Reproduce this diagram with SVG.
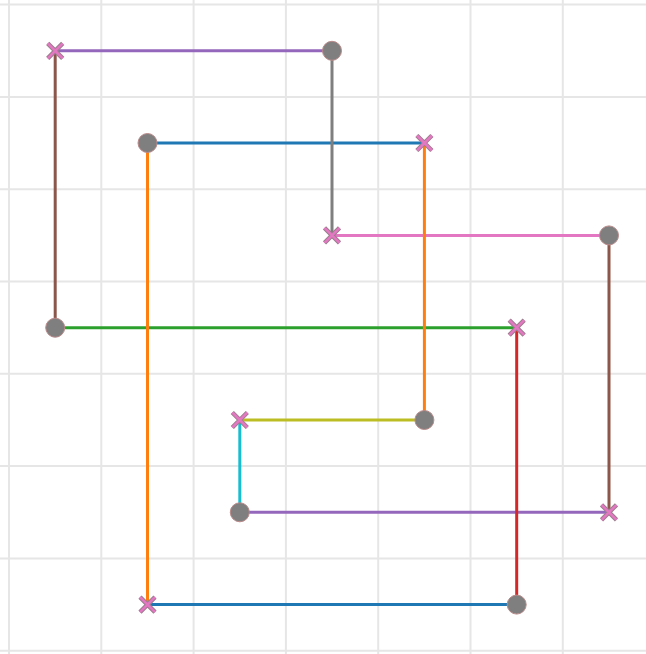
<svg xmlns="http://www.w3.org/2000/svg" width="646" height="654" viewBox="0 0 646 654">
<defs>
<style>
.grid line{stroke:#e6e6e6;stroke-width:2}
.c line{stroke-width:3;fill:none;stroke-linecap:butt}
.dot{fill:#7f7f7f;stroke:#b98a8a;stroke-width:1}
.xo{stroke:#9a7f8c;stroke-width:4.5;fill:none}
.xi{stroke:#e377c2;stroke-width:2.5;fill:none}
</style>
<g id="xm"><path class="xo" d="M-7.5,-7.5L7.5,7.5M-7.5,7.5L7.5,-7.5"/><path class="xi" d="M-7.5,-7.5L7.5,7.5M-7.5,7.5L7.5,-7.5"/></g>
</defs>
<rect width="646" height="654" fill="#ffffff"/>
<g class="grid">
<line x1="9" y1="0" x2="9" y2="654"/>
<line x1="101.3" y1="0" x2="101.3" y2="654"/>
<line x1="193.6" y1="0" x2="193.6" y2="654"/>
<line x1="285.9" y1="0" x2="285.9" y2="654"/>
<line x1="378.2" y1="0" x2="378.2" y2="654"/>
<line x1="470.5" y1="0" x2="470.5" y2="654"/>
<line x1="562.8" y1="0" x2="562.8" y2="654"/>
<line x1="0" y1="4.6" x2="646" y2="4.6"/>
<line x1="0" y1="96.9" x2="646" y2="96.9"/>
<line x1="0" y1="189.2" x2="646" y2="189.2"/>
<line x1="0" y1="281.5" x2="646" y2="281.5"/>
<line x1="0" y1="373.8" x2="646" y2="373.8"/>
<line x1="0" y1="466.1" x2="646" y2="466.1"/>
<line x1="0" y1="558.4" x2="646" y2="558.4"/>
<line x1="0" y1="650.7" x2="646" y2="650.7"/>
</g>
<g id="connectors" class="c">
<line x1="55.2" y1="50.8" x2="332" y2="50.8" stroke="#9467bd"/>
<line x1="332" y1="235.4" x2="609" y2="235.4" stroke="#e377c2"/>
<line x1="239.8" y1="512.3" x2="609" y2="512.3" stroke="#9467bd"/>
<line x1="239.8" y1="420" x2="424.4" y2="420" stroke="#bcbd22"/>
<line x1="147.5" y1="143" x2="424.4" y2="143" stroke="#1f77b4"/>
<line x1="147.5" y1="604.6" x2="516.7" y2="604.6" stroke="#1f77b4"/>
<line x1="55.2" y1="327.7" x2="516.7" y2="327.7" stroke="#2ca02c"/>
<line x1="332" y1="50.8" x2="332" y2="235.4" stroke="#7f7f7f"/>
<line x1="609" y1="235.4" x2="609" y2="512.3" stroke="#8c564b"/>
<line x1="239.8" y1="512.3" x2="239.8" y2="420" stroke="#17becf"/>
<line x1="424.4" y1="420" x2="424.4" y2="143" stroke="#ff7f0e"/>
<line x1="147.5" y1="143" x2="147.5" y2="604.6" stroke="#ff7f0e"/>
<line x1="516.7" y1="604.6" x2="516.7" y2="327.7" stroke="#d62728"/>
<line x1="55.2" y1="327.7" x2="55.2" y2="50.8" stroke="#8c564b"/>
</g>
<g id="n1"><use href="#xm" x="55.2" y="50.8"/></g>
<g id="n2"><circle class="dot" cx="332" cy="50.8" r="9.5"/></g>
<g id="n3"><use href="#xm" x="332" y="235.4"/></g>
<g id="n4"><circle class="dot" cx="609" cy="235.4" r="9.5"/></g>
<g id="n5"><use href="#xm" x="609" y="512.3"/></g>
<g id="n6"><circle class="dot" cx="239.8" cy="512.3" r="9.5"/></g>
<g id="n7"><use href="#xm" x="239.8" y="420"/></g>
<g id="n8"><circle class="dot" cx="424.4" cy="420" r="9.5"/></g>
<g id="n9"><use href="#xm" x="424.4" y="143"/></g>
<g id="n10"><circle class="dot" cx="147.5" cy="143" r="9.5"/></g>
<g id="n11"><use href="#xm" x="147.5" y="604.6"/></g>
<g id="n12"><circle class="dot" cx="516.7" cy="604.6" r="9.5"/></g>
<g id="n13"><use href="#xm" x="516.7" y="327.7"/></g>
<g id="n14"><circle class="dot" cx="55.2" cy="327.7" r="9.5"/></g>
</svg>
